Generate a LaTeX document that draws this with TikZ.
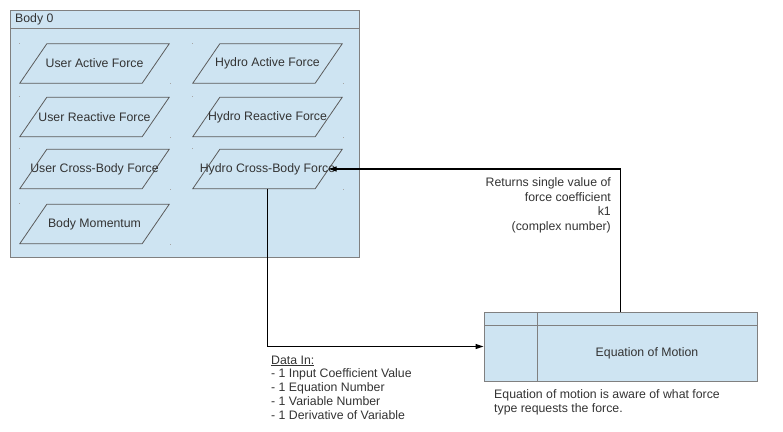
\documentclass[tikz,border=0pt]{standalone}
\usepackage{fontspec}
\setmainfont{Liberation Sans}
\usetikzlibrary{arrows.meta,calc}
\definecolor{boxfill}{RGB}{206,228,242}
\definecolor{boxline}{RGB}{128,128,128}
\definecolor{txt}{RGB}{51,51,51}
\begin{document}
\begin{tikzpicture}[x=1pt,y=-1pt,
  every node/.style={font=\fontsize{12.3}{14}\selectfont, text=txt},
  frame/.style={draw=boxline, fill=boxfill, line width=1pt},
  pbox/.style={minimum width=149pt, minimum height=39pt, inner sep=0pt},
  pline/.style={draw=txt!80, line width=0.8pt},
  conn/.style={draw=black, line width=1.2pt, -{Triangle[length=8pt,width=5pt]}},
  note/.style={inner sep=0pt}
]
\useasboundingbox (0,0) rectangle (783,431);
% Body 0
\node[frame, minimum width=349pt, minimum height=247pt, inner sep=0pt] (body) at (184.5,133.5) {};
\draw[boxline, line width=1pt] (10,28) -- (359,28);
\node[anchor=west, inner sep=0pt] (bodytitle) at (15,19) {Body 0};
% parallelograms
\foreach \n/\x/\y/\t in {ua/94.5/63.5/User Active Force, ha/267.5/63.5/Hydro Active Force,
  ur/94.5/117/User Reactive Force, hr/267.5/117/Hydro Reactive Force,
  uc/94.5/169/User Cross-Body Force, hc/267.5/169/Hydro Cross-Body Force,
  bm/94.5/224/Body Momentum}{
  \node[pbox] (\n) at (\x,\y) {};
  \draw[pline] ($(\n.south west)$) -- ($(\n.south east)+(-27,0)$) -- (\n.north east) -- ($(\n.north west)+(27,0)$) -- cycle;
  \fill[boxline!70] ($(\n.north west)+(-0.5,-1)$) rectangle ++(1,1);
  \fill[boxline!70] ($(\n.south east)+(0.5,0)$) rectangle ++(1,1);
  \node[inner sep=0pt] (\n t) at (\n) {\t};
}
\coordinate (hcR) at ($(hc.east)+(-13.5,0)$);
% Equation of Motion
\node[frame, minimum width=273pt, minimum height=69pt, inner sep=0pt] (eom) at (620.5,346.5) {};
\draw[boxline, line width=1pt] (484,325) -- (757,325);
\draw[boxline, line width=1pt] (537,312) -- (537,381);
\node[inner sep=0pt] (eomt) at (647,353) {Equation of Motion};
% connectors
\draw[conn] (hc.south) |- (eom.west);
\draw[conn] (eom.north) |- (hcR);
% notes
\node[note, align=right, anchor=north east, font=\fontsize{12.3}{14.5}\selectfont] (ret) at (611,177.5) {Returns single value of\\force coefficient\\k1\\(complex number)};
\node[note, align=left, anchor=north west, font=\fontsize{12.3}{13.8}\selectfont] (datain) at (271,355.5) {\underline{Data In:}\\- 1 Input Coefficient Value\\- 1 Equation Number\\- 1 Variable Number\\- 1 Derivative of Variable};
\node[note, align=left, anchor=north west, font=\fontsize{12.3}{13.5}\selectfont] (eomnote) at (494,389.5) {Equation of motion is aware of what force\\type requests the force.};
\end{tikzpicture}
\end{document}
